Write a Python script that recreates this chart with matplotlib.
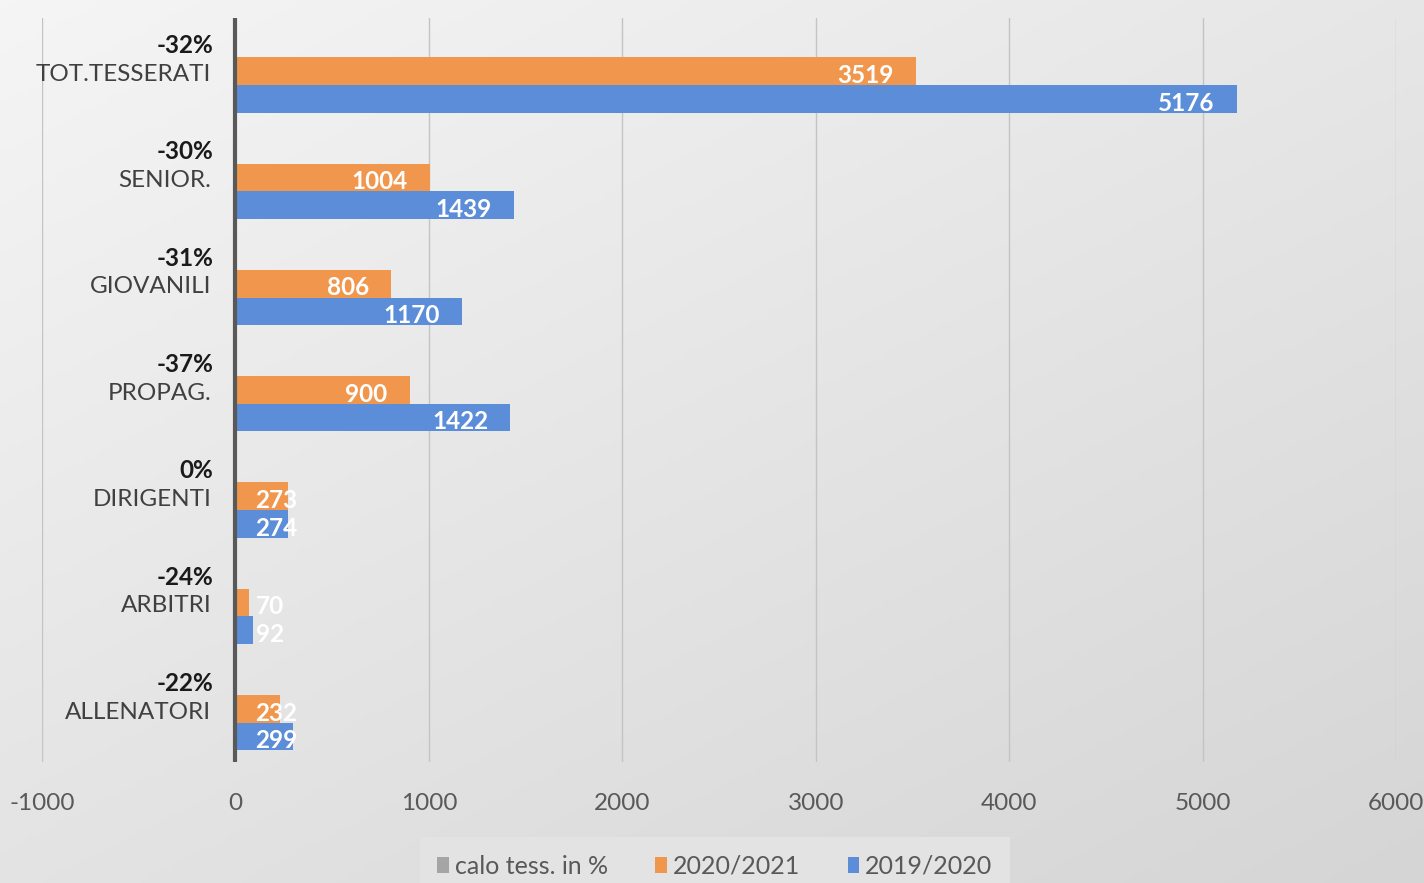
import numpy as np
import matplotlib.pyplot as plt
from matplotlib.colors import LinearSegmentedColormap

categorie = ["TOT.TESSERATI", "SENIOR.", "GIOVANILI", "PROPAG.",
             "DIRIGENTI", "ARBITRI", "ALLENATORI"]
tess_2020_2021 = [3519, 1004, 806, 900, 273, 70, 232]
tess_2019_2020 = [5176, 1439, 1170, 1422, 274, 92, 299]
calo_pct = [-0.32, -0.30, -0.31, -0.37, 0.0, -0.24, -0.22]

xticks = [-1000, 0, 1000, 2000, 3000, 4000, 5000, 6000]

ARANCIO = "#F1974D"
BLU = "#5B8DD8"
GRIGIO = "#A5A5A5"

plt.rcParams['font.family'] = ['Lato', 'DejaVu Sans']

fig = plt.figure(figsize=(14.24, 8.83), dpi=100)

# sfondo sfumato (chiaro in alto a sinistra, piu' scuro in basso a destra)
bg = fig.add_axes([0, 0, 1, 1], zorder=-10)
yy, xx = np.mgrid[0:1:200j, 0:1:200j]
grad = 0.55 * yy + 0.45 * xx
cmap_bg = LinearSegmentedColormap.from_list("sfondo", ["#F5F5F5", "#D5D5D5"])
bg.imshow(grad, cmap=cmap_bg, vmin=0, vmax=1, aspect="auto",
          extent=[0, 1, 0, 1], origin="upper")
bg.axis("off")

ax = fig.add_axes([0.0295, 0.137, 0.9508, 0.8426])
ax.patch.set_alpha(0)

y = np.arange(len(categorie))
h = 0.26
ax.barh(y - h, calo_pct, height=h, color=GRIGIO, label="calo tess. in %", zorder=3)
ax.barh(y, tess_2020_2021, height=h, color=ARANCIO, label="2020/2021", zorder=3)
ax.barh(y + h, tess_2019_2020, height=h, color=BLU, label="2019/2020", zorder=3)

ax.set_xlim(-1000, 6000)
ax.set_ylim(len(categorie) - 0.5, -0.5)
ax.set_xticks(xticks)
ax.set_xticklabels([str(t) for t in xticks], fontsize=17.5, color="#595959")
ax.tick_params(axis="x", length=0, pad=22)
ax.set_yticks([])
ax.grid(axis="x", color="#C4C4C4", linewidth=1, zorder=0)
for s in ax.spines.values():
    s.set_visible(False)
ax.axvline(0, color="#595959", linewidth=3, zorder=4)


def pos_etichetta(v):
    # etichetta "interno fine", spinta a destra se la barra e' corta
    return max(v - 115, 110 + len(str(v)) * 70)


for i in range(len(categorie)):
    ax.text(-125, y[i] + 0.03, categorie[i], ha="right", va="center",
            fontsize=17.5, color="#404040")
    ax.text(-115, y[i] - h + 0.02, f"{calo_pct[i]:.0%}", ha="right", va="center",
            fontsize=17.5, fontweight="bold", color="#1A1A1A")
    v1 = tess_2020_2021[i]
    v2 = tess_2019_2020[i]
    ax.text(pos_etichetta(v1), y[i] + 0.04, str(v1), ha="right", va="center",
            fontsize=17.5, fontweight="bold", color="white", zorder=5)
    ax.text(pos_etichetta(v2), y[i] + h + 0.04, str(v2), ha="right", va="center",
            fontsize=17.5, fontweight="bold", color="white", zorder=5)

leg = fig.legend(loc="lower center", bbox_to_anchor=(0.502, -0.028), ncol=3,
                 fontsize=18, frameon=True, handlelength=0.45, handleheight=0.6,
                 columnspacing=1.9, handletextpad=0.25, borderpad=0.7)
leg.get_frame().set_facecolor("#E3E3E3")
leg.get_frame().set_edgecolor("none")
leg.get_frame().set_alpha(1)
leg.get_frame().set_boxstyle("square", pad=0)
for t in leg.get_texts():
    t.set_color("#595959")

fig.savefig("out.png", dpi=100)
